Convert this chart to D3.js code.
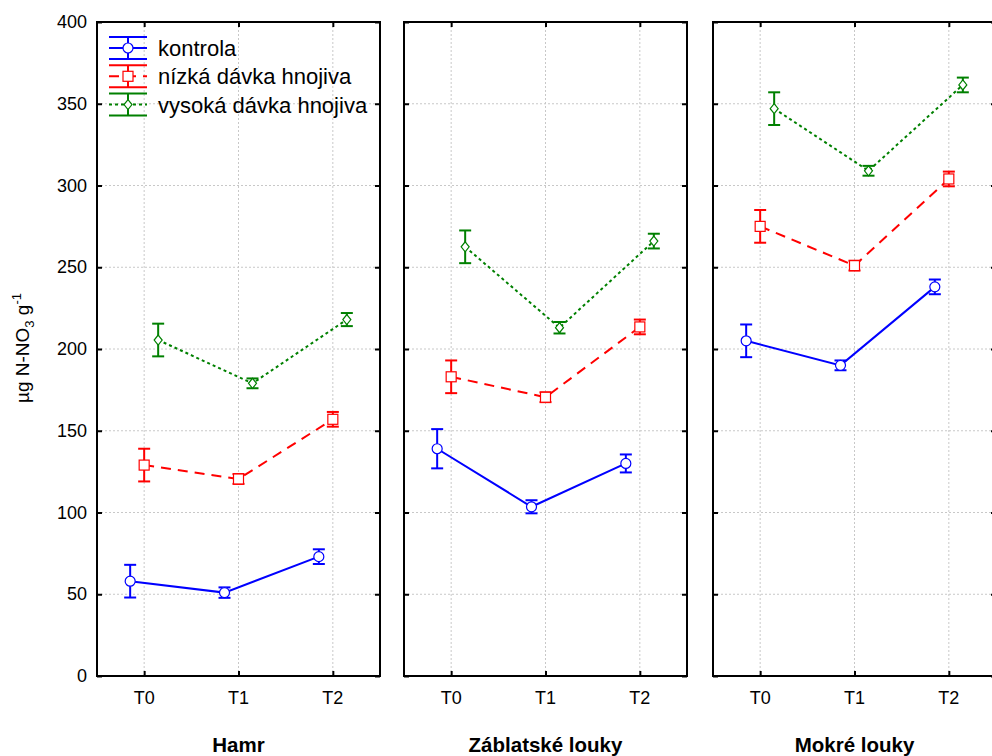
<!DOCTYPE html>
<html>
<head>
<meta charset="utf-8">
<script src="https://cdn.jsdelivr.net/npm/d3@7"></script>
<style>
  body { margin: 0; background: #fff; }
  text { font-family: "Liberation Sans", Arial, sans-serif; fill: #000; }
</style>
</head>
<body>
<script>
// data
var panels = ["Hamr", "Záblatské louky", "Mokré louky"];
var times = ["T0", "T1", "T2"];
var seriesNames = ["kontrola", "nízká dávka hnojiva", "vysoká dávka hnojiva"];
var kontrola    = [[58, 51, 73], [139, 103.5, 130], [205, 190, 238]];
var kontrolaErr = [[10, 3.2, 4.5], [12, 4, 5.5], [10, 3, 4.5]];
var nizka       = [[129, 120.5, 157], [183, 170.5, 213.5], [275, 251, 304]];
var nizkaErr    = [[10, 3, 4.5], [10, 3, 4.5], [10, 3, 4.5]];
var vysoka      = [[205.5, 179, 218], [262.5, 213, 266], [347, 309, 361.5]];
var vysokaErr   = [[10, 3, 4], [10, 3.5, 4.5], [10, 3, 4.5]];
var yTicks = [0, 50, 100, 150, 200, 250, 300, 350, 400];

var series = [
  {vals: kontrola, err: kontrolaErr, color: "#0000ff", dash: null, off: -14, marker: "circle"},
  {vals: nizka, err: nizkaErr, color: "#ff0000", dash: "10,7", off: 0, marker: "square"},
  {vals: vysoka, err: vysokaErr, color: "#008000", dash: "3,3", off: 14, marker: "diamond"}
];

var svgWidth = 992, svgHeight = 756;
var yTop = 22, yBottom = 676;
var pw = 283;
var x0s = [97, 404, 713];

var svg = d3.select("body").append("svg")
  .attr("width", svgWidth)
  .attr("height", svgHeight);

var y = d3.scaleLinear().domain([0, 400]).range([yBottom, yTop]);
var x = d3.scalePoint().domain(times).range([0, pw]).padding(0.5);

function drawMarker(g, type, cx, cy, color) {
  if (type == "circle") {
    g.append("circle").attr("cx", cx).attr("cy", cy).attr("r", 5)
      .attr("fill", "#fff").attr("stroke", color).attr("stroke-width", 1.2);
  } else if (type == "square") {
    g.append("rect").attr("x", cx - 5).attr("y", cy - 5).attr("width", 10).attr("height", 10)
      .attr("fill", "#fff").attr("stroke", color).attr("stroke-width", 1.2);
  } else {
    g.append("path")
      .attr("d", "M" + cx + "," + (cy - 5) + "L" + (cx + 4) + "," + cy + "L" + cx + "," + (cy + 5) + "L" + (cx - 4) + "," + cy + "Z")
      .attr("fill", "#fff").attr("stroke", color).attr("stroke-width", 1.2);
  }
}

panels.forEach(function(name, p) {
  var g = svg.append("g").attr("transform", "translate(" + x0s[p] + ",0)");

  // grid
  g.selectAll(".gy").data(yTicks.filter(function(t) { return t > 0 && t < 400; }))
    .enter().append("line")
    .attr("x1", 0).attr("x2", pw)
    .attr("y1", function(d) { return y(d); }).attr("y2", function(d) { return y(d); })
    .attr("stroke", "#c8c8c8").attr("stroke-dasharray", "2,2");
  g.selectAll(".gx").data(times).enter().append("line")
    .attr("x1", function(d) { return x(d); }).attr("x2", function(d) { return x(d); })
    .attr("y1", yTop).attr("y2", yBottom)
    .attr("stroke", "#c8c8c8").attr("stroke-dasharray", "2,2");

  // inner ticks on all sides
  function thick(a) { a.select(".domain").remove(); a.selectAll("line").attr("stroke-width", 2); }
  g.append("g")
    .call(d3.axisRight(y).tickValues(yTicks).tickSize(5).tickFormat(""))
    .call(thick);
  g.append("g").attr("transform", "translate(" + pw + ",0)")
    .call(d3.axisLeft(y).tickValues(yTicks).tickSize(5).tickFormat(""))
    .call(thick);
  g.append("g").attr("transform", "translate(0," + yBottom + ")")
    .call(d3.axisTop(x).tickSize(5).tickFormat(""))
    .call(thick);
  g.append("g").attr("transform", "translate(0," + yTop + ")")
    .call(d3.axisBottom(x).tickSize(5).tickFormat(""))
    .call(thick);

  // x labels
  g.selectAll(".xl").data(times).enter().append("text")
    .attr("x", function(d) { return x(d); })
    .attr("y", 704)
    .attr("text-anchor", "middle")
    .attr("font-size", "18px")
    .text(function(d) { return d; });

  // panel title
  g.append("text")
    .attr("x", pw / 2)
    .attr("y", 752)
    .attr("text-anchor", "middle")
    .attr("font-weight", "bold")
    .attr("font-size", "20.5px")
    .text(name);

  // series
  series.forEach(function(s) {
    var pts = times.map(function(t, i) {
      return {x: x(t) + s.off, v: s.vals[p][i], e: s.err[p][i]};
    });
    var line = d3.line().x(function(d) { return d.x; }).y(function(d) { return y(d.v); });
    g.append("path").datum(pts).attr("d", line)
      .attr("fill", "none").attr("stroke", s.color).attr("stroke-width", 2)
      .attr("stroke-dasharray", s.dash);
    pts.forEach(function(d) {
      g.append("line").attr("x1", d.x).attr("x2", d.x)
        .attr("y1", y(d.v + d.e)).attr("y2", y(d.v - d.e))
        .attr("stroke", s.color).attr("stroke-width", 2);
      [d.v + d.e, d.v - d.e].forEach(function(c) {
        g.append("line").attr("x1", d.x - 6).attr("x2", d.x + 6)
          .attr("y1", y(c)).attr("y2", y(c))
          .attr("stroke", s.color).attr("stroke-width", 2);
      });
      drawMarker(g, s.marker, d.x, y(d.v), s.color);
    });
  });

  // frame
  g.append("rect").attr("x", 0).attr("y", yTop).attr("width", pw).attr("height", yBottom - yTop)
    .attr("fill", "none").attr("stroke", "#000").attr("stroke-width", 2);
});

// y axis labels
svg.selectAll(".yl").data(yTicks).enter().append("text")
  .attr("x", 87)
  .attr("y", function(d) { return y(d) + 6; })
  .attr("text-anchor", "end")
  .attr("font-size", "18px")
  .text(function(d) { return d; });

var yt = svg.append("text")
  .attr("transform", "translate(29,348) rotate(-90)")
  .attr("text-anchor", "middle")
  .attr("font-size", "19px");
yt.append("tspan").text("µg N-NO");
yt.append("tspan").attr("dy", 5).attr("font-size", "13px").text("3");
yt.append("tspan").attr("dy", -5).text(" g");
yt.append("tspan").attr("dy", -8).attr("font-size", "13px").text("-1");

// legend
var leg = svg.append("g");
series.forEach(function(s, i) {
  var ly = 48 + i * 28.3;
  var lg = leg.append("g");
  lg.append("line").attr("x1", 109).attr("x2", 147).attr("y1", ly - 11).attr("y2", ly - 11)
    .attr("stroke", s.color).attr("stroke-width", 2);
  lg.append("line").attr("x1", 109).attr("x2", 147).attr("y1", ly + 11).attr("y2", ly + 11)
    .attr("stroke", s.color).attr("stroke-width", 2);
  lg.append("line").attr("x1", 128).attr("x2", 128).attr("y1", ly - 11).attr("y2", ly + 11)
    .attr("stroke", s.color).attr("stroke-width", 2);
  lg.append("line").attr("x1", 109).attr("x2", 147).attr("y1", ly).attr("y2", ly)
    .attr("stroke", s.color).attr("stroke-width", 2).attr("stroke-dasharray", s.dash);
  drawMarker(lg, s.marker, 128, ly, s.color);
  lg.append("text").attr("x", 158).attr("y", ly + 8)
    .attr("font-size", "22px")
    .text(seriesNames[i]);
});
</script>
</body>
</html>
